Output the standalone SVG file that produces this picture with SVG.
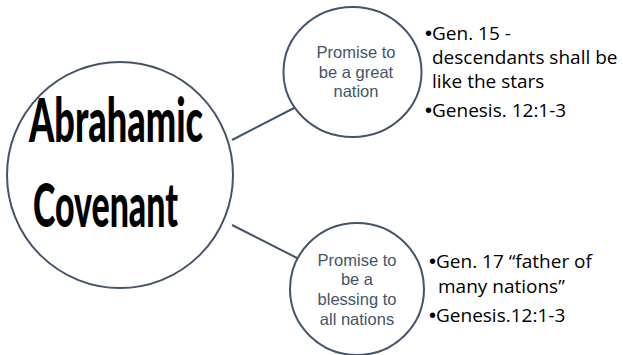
<svg xmlns="http://www.w3.org/2000/svg" width="623" height="355" viewBox="0 0 623 355">
  <style>
    .node { fill: #ffffff; stroke: #44546A; stroke-width: 2; }
    .conn { stroke: #44546A; stroke-width: 2; fill: none; }
    .title { font-family: Lato, "Liberation Sans", sans-serif; font-weight: 900; font-size: 60px; fill: #000000; }
    .lbl { font-family: "Liberation Sans", Arial, sans-serif; font-size: 16.5px; fill: #44546A; text-anchor: middle; }
    .note { font-family: "Open Sans", "Liberation Sans", sans-serif; font-size: 19px; fill: #000000; }
    .bul { font-family: "Liberation Sans", Arial, sans-serif; font-size: 20px; }
  </style>
  <rect width="623" height="355" fill="#ffffff"/>
  <g id="connectors">
    <line class="conn" x1="232" y1="140" x2="296" y2="107"/>
    <line class="conn" x1="232" y1="225" x2="297" y2="258"/>
  </g>
  <g id="node-abrahamic-covenant">
    <circle class="node" cx="120" cy="175" r="113"/>
    <text class="title" x="29" y="142" textLength="174" lengthAdjust="spacingAndGlyphs">Abrahamic</text>
    <text class="title" x="33" y="227" textLength="145" lengthAdjust="spacingAndGlyphs">Covenant</text>
  </g>
  <g id="node-great-nation">
    <ellipse class="node" cx="352.5" cy="72" rx="69" ry="65"/>
    <text class="lbl" x="356" y="58">Promise to</text>
    <text class="lbl" x="356" y="78">be a great</text>
    <text class="lbl" x="356" y="97">nation</text>
  </g>
  <g id="node-blessing">
    <ellipse class="node" cx="357" cy="289" rx="67" ry="66"/>
    <text class="lbl" x="357" y="266">Promise to</text>
    <text class="lbl" x="357" y="285">be a</text>
    <text class="lbl" x="357" y="305">blessing to</text>
    <text class="lbl" x="357" y="325">all nations</text>
  </g>
  <g id="notes-great-nation">
    <text class="note" x="425" y="40"><tspan class="bul">•</tspan>Gen. 15 -</text>
    <text class="note" x="432" y="64">descendants shall be</text>
    <text class="note" x="432" y="88">like the stars</text>
    <text class="note" x="425" y="117"><tspan class="bul">•</tspan>Genesis. 12:1-3</text>
  </g>
  <g id="notes-blessing">
    <text class="note" x="429" y="268"><tspan class="bul">•</tspan>Gen. 17 “father of</text>
    <text class="note" x="438" y="293">many nations”</text>
    <text class="note" x="429" y="322"><tspan class="bul">•</tspan>Genesis.12:1-3</text>
  </g>
</svg>
